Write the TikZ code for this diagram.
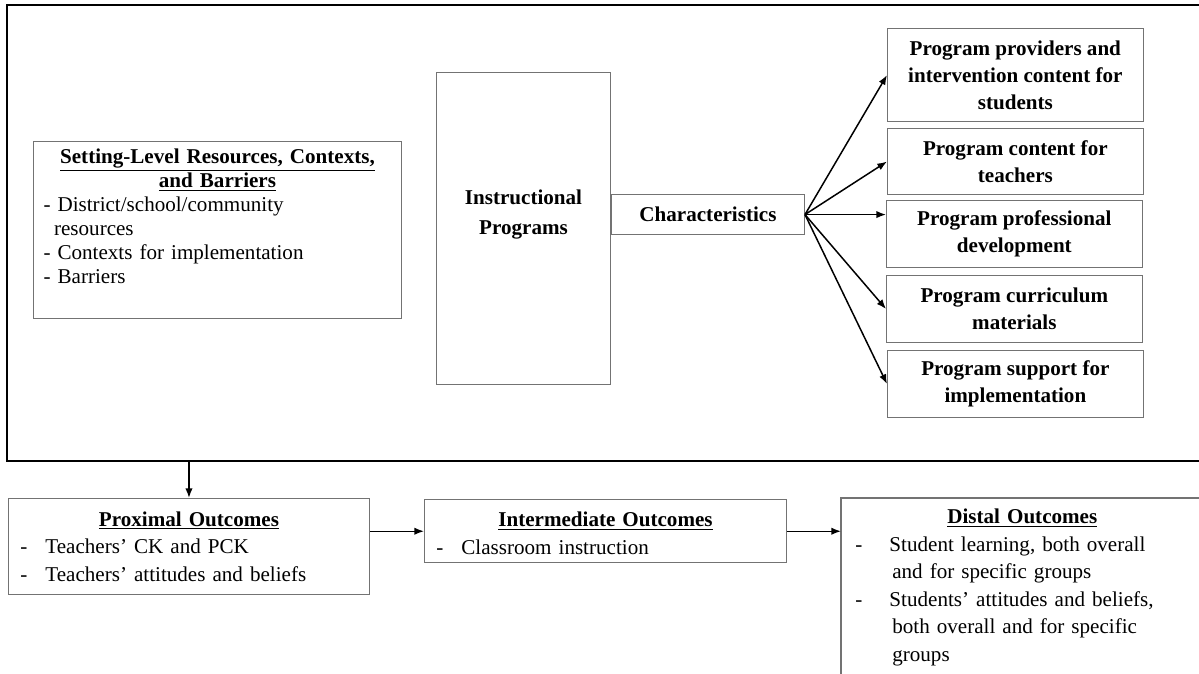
\documentclass[tikz,border=0pt]{standalone}
\usepackage{fontspec}
\setmainfont{Liberation Serif}
\usetikzlibrary{arrows.meta}
\newcommand{\outdash}[2][14.2pt]{\makebox[#1][l]{-}#2}
\tikzset{
  setting_font/.style = {font=\fontsize{12}{13.7}\selectfont},
  prog_font/.style = {font=\fontsize{12}{15.4}\selectfont\bfseries},
  instr_font/.style = {font=\fontsize{12}{17.6}\selectfont\bfseries},
  outcome_font/.style = {font=\fontsize{12}{15.7}\selectfont},
  plain_line/.style = {draw=black!55, line width=0.6pt},
  frame_line/.style = {draw=black, line width=1.2pt},
  arrow_line/.style = {draw=black, line width=0.85pt, -{Latex[length=5.5pt, width=4.2pt]}}
}
\tikzset{
  plain_box/.style = {plain_line, anchor=north west, inner sep=0},
  prog_box/.style = {plain_box, prog_font, align=center, minimum width=145.5pt, minimum height=38.1pt},
  outcome_box/.style = {plain_box, outcome_font, align=left, inner xsep=6.8pt}
}
\begin{document}
\begin{tikzpicture}[x=0.02cm, y=-0.02cm]
        \useasboundingbox (0,0) rectangle (1199,673);
        \clip (0,0) rectangle (1199,673);

        % Frame
        \coordinate (frame_ne) at (1215,5);
        \coordinate (frame_nw) at (7,5);
        \coordinate (frame_sw) at (7,461);
        \coordinate (frame_se) at (1215,461);
        \draw[frame_line] (frame_ne) -- (frame_nw) -- (frame_sw) -- (frame_se);

        % Setting level
        \node[plain_box, minimum width=209.4pt, minimum height=100.7pt] at (33,141) (setting) {};
        \node[setting_font, text width=198pt, align=left, inner sep=0, yshift=7.7pt] at (setting.center) (setting_text) {
            {\centering\textbf{\underline{Setting-Level Resources, Contexts,}}\\
            \textbf{\underline{and Barriers}}\par}
            - District/school/community\\
            \hspace*{6pt}resources\\
            - Contexts for implementation\\
            - Barriers
            };

        % Instructional programs
        \node[plain_box, minimum width=99pt, minimum height=177.6pt] at (436,72) (instr) {};
        \node[instr_font, align=center, yshift=8pt] at (instr.center) (instr_text) {
            Instructional\\Programs
            };
        \node[plain_box, prog_font, minimum width=109.8pt, minimum height=22.8pt] at (611,194) (char) {
            Characteristics
            };

        % Characteristics
        \node[prog_box, minimum height=53pt] at (887,28) (prov) {
            Program providers and\\intervention content for\\students
            };
        \node[prog_box, minimum height=37.6pt] at (887,128) (cont) {
            Program content for\\teachers
            };
        \node[prog_box] at (886,200) (pd) {
            Program professional\\development
            };
        \node[prog_box] at (886,275) (cm) {
            Program curriculum\\materials
            };
        \node[prog_box] at (887,350) (supp) {
            Program support for\\implementation
            };

        % Outcomes
        \node[outcome_box, text width=191.8pt, minimum height=54.6pt] at (8,498) (prox) {
            {\centering\textbf{\underline{Proximal Outcomes}}\par}
            \outdash{Teachers’ CK and PCK}\\
            \outdash{Teachers’ attitudes and beliefs}
            };
        \node[outcome_box, text width=192.4pt, inner ysep=1.5pt] at (424,499) (inter) {
            {\centering\rule{0pt}{13.9pt}\textbf{\underline{Intermediate Outcomes}}\par}
            \outdash{Classroom instruction}\rule[-3.5pt]{0pt}{0pt}
            };
        \node[outcome_font, anchor=north west, align=left, text width=190pt, inner xsep=8pt, inner ysep=6pt] at (841,498) (dist) {
            {\centering\textbf{\underline{Distal Outcomes}}\par}
            \outdash[19.4pt]{Student learning, both overall}\\
            \hspace*{21pt}and for specific groups\\
            \outdash[19.4pt]{Students’ attitudes and beliefs,}\\
            \hspace*{21pt}both overall and for specific\\
            \hspace*{21pt}groups
            };
        \draw[plain_line] (dist.north east) -- (dist.north west) -- (dist.south west);

        % Arrows
        \foreach \target in {prov, cont, cm, supp}
            \draw[arrow_line] (char.east) -- (\target.west);
        \draw[arrow_line] (char.east) -- (char.east -| pd.west);
        \draw[arrow_line] (prox.north |- frame_sw) -- (prox.north);
        \draw[arrow_line] (prox.east |- inter.west) -- (inter.west);
        \draw[arrow_line] (inter.east) -- (inter.east -| dist.west);
\end{tikzpicture}
\end{document}
